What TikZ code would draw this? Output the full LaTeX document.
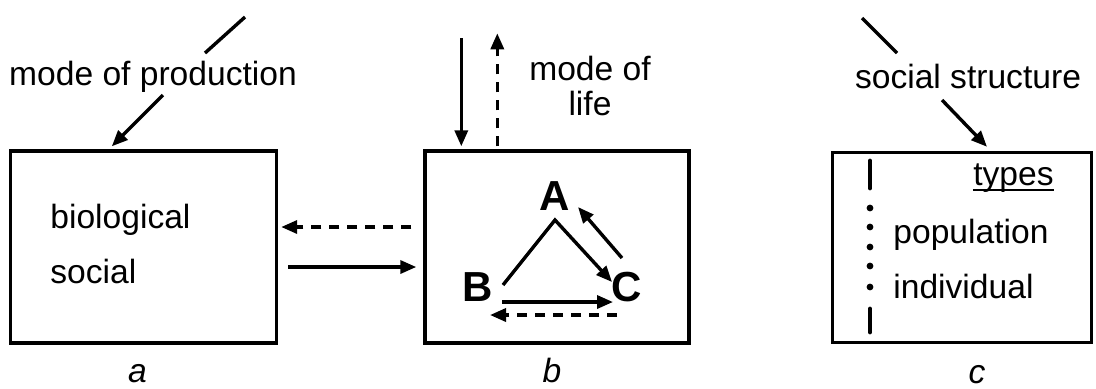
\documentclass[tikz,border=0pt]{standalone}
\usepackage{fontspec}
\setmainfont{Liberation Sans}
\usetikzlibrary{arrows.meta,positioning,calc}
\tikzset{box/.style={draw,line width=1.7pt,minimum width=133pt,minimum height=96pt,inner sep=0pt},arr/.style={-{Triangle[length=8pt,width=6.5pt]},line width=1.7pt},darr/.style={arr,dash pattern=on 5pt off 4pt},txt/.style={font=\fontsize{16.8}{17.5}\selectfont,inner sep=0pt,anchor=base},lbl/.style={txt,font=\fontsize{16.8}{17.5}\selectfont\itshape},abc/.style={font=\fontsize{21}{22}\selectfont\bfseries,inner sep=0pt}}

\begin{document}
\begin{tikzpicture}[x=0.5pt,y=-0.5pt]
\useasboundingbox (0,0) rectangle (1096,388);
% the three boxes
\node[box] (boxa) at (143.5,247) {};
\node[box,minimum width=132pt] (boxb) at (557,247) {};
\node[box,minimum width=129.5pt,minimum height=95pt] (boxc) at (962,247.5) {};
\node[lbl] (la) at ($(boxa.south)+(-6,38)$) {a};
\node[lbl] (lb) at ($(boxb.south)+(-5,38)$) {b};
\node[lbl] (lc) at ($(boxc.south)+(15,39)$) {c};
% a
\node[txt] (prod) at (153,85) {mode of production};
\coordinate (pa1) at (245,17);
\coordinate (pa2) at (205,53);
\draw[line width=1.7pt] (pa1) -- (pa2);
\draw[arr] ($(prod.base)+(10,10)$) -- ($(boxa.north west)+(103,-3)$);
\node[txt,anchor=base west] (bio) at (50,228) {biological};
\node[txt,anchor=base west] (soc) at (50,283) {social};
% a <-> b
\draw[darr] ($(boxb.west)+(-12,-20)$) -- ($(boxa.east)+(3,-20)$);
\draw[arr] ($(boxa.east)+(10,20)$) -- ($(boxb.west)+(-7,20)$);
% b
\node[txt,align=center] (life) at (590,115) {mode of\\life};
\draw[arr] ($(boxb.north west)+(38,-111)$) -- ($(boxb.north west)+(38,-3)$);
\draw[darr] ($(boxb.north west)+(74,-3)$) -- ($(boxb.north west)+(74,-116)$);
\node[abc] (A) at (555,196) {A};
\node[abc] (B) at (478,287) {B};
\node[abc] (C) at (627,287) {C};
\draw[arr] ($(B)+(25,-2)$) -- ($(A)+(0,24)$) -- ($(C)+(-15,-5)$);
\draw[arr] ($(C)+(-5,-29)$) -- ($(A)+(23,11)$);
\draw[arr] ($(B)+(24,15)$) -- ($(C)+(-14,15)$);
\draw[darr] ($(C)+(-10,28)$) -- ($(B)+(12,28)$);
% c
\node[txt] (struct) at (968,88) {social structure};
\coordinate (pc1) at (862,18);
\coordinate (pc2) at (897,53);
\draw[line width=1.7pt] (pc1) -- (pc2);
\draw[arr] ($(struct.base)+(-26,12)$) -- ($(boxc.north)+(25,-4)$);
\draw[line width=2.4pt,line cap=round] (870,161) -- (870,188) (870,309) -- (870,332);
\foreach \y in {208,227,247,266,287}
  \fill (870,\y) circle (1.7pt);
\node[txt,anchor=base east] (types) at (1054,185) {types};
\draw[line width=0.9pt] ($(types.base west)+(0,5)$) -- ($(types.base east)+(0,5)$);
\node[txt,anchor=base west] (pop) at (893,243) {population};
\node[txt,anchor=base west] (ind) at (893,298) {individual};
\end{tikzpicture}
\end{document}
